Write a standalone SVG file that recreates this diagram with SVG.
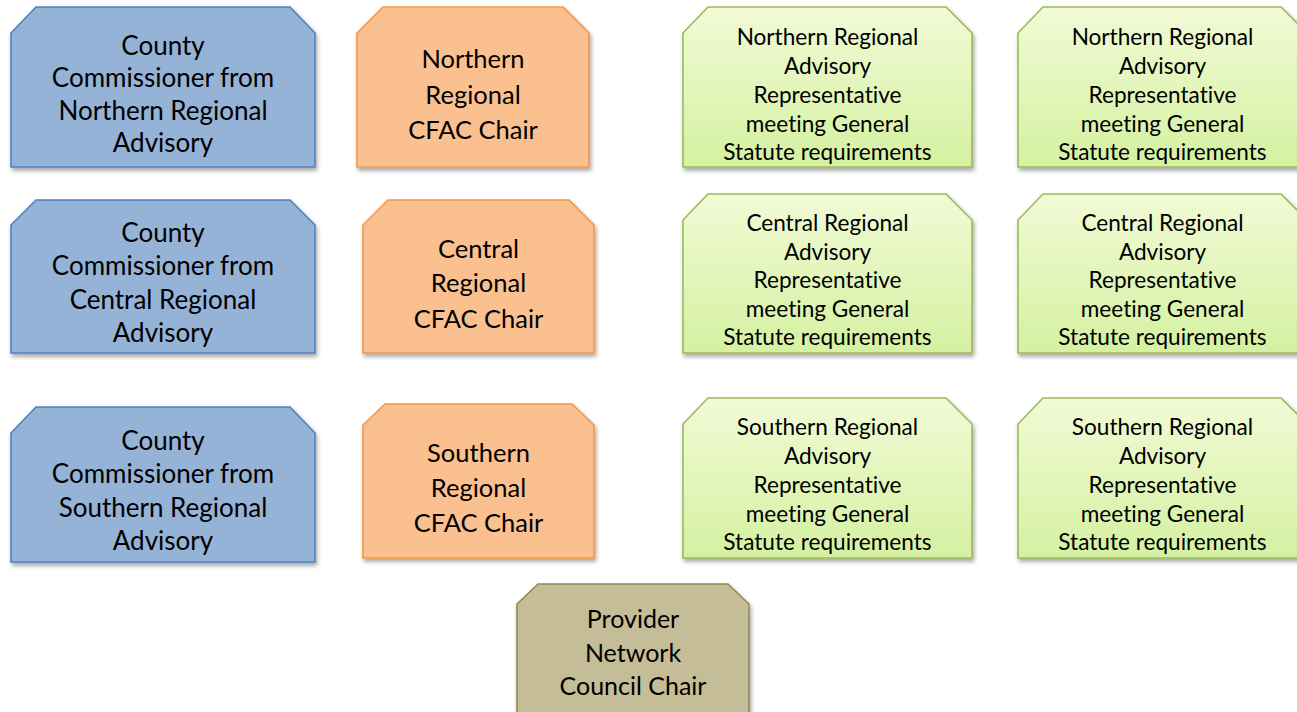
<svg xmlns="http://www.w3.org/2000/svg" width="1297" height="712" viewBox="0 0 1297 712">
<defs>
<linearGradient id="gg" x1="0" y1="0" x2="0" y2="1">
<stop offset="0" stop-color="#f2fad6"/>
<stop offset="1" stop-color="#d4f1a1"/>
</linearGradient>
<filter id="sh" x="-10%" y="-10%" width="125%" height="130%">
<feDropShadow dx="1.5" dy="3" stdDeviation="2" flood-color="#000" flood-opacity="0.35"/>
</filter>
</defs>
<style>
.n{stroke-width:1.6;filter:url(#sh)}
.blue{fill:#95b3d7;stroke:#4f81bd}
.orange{fill:#fac090;stroke:#f79646}
.green{fill:url(#gg);stroke:#9bbb59}
.tan{fill:#c4bd97;stroke:#948a54}
text{font-family:Lato,"Liberation Sans",sans-serif;fill:#000;text-anchor:middle;font-variant-ligatures:none;font-feature-settings:"liga" 0}
.tb{font-size:26px}
.to{font-size:25.5px}
.tg{font-size:22.6px}
.tp{font-size:25px}
</style>
<rect width="1297" height="712" fill="#fff"/>
<g id="connectors"/>

<g id="blue1">
<polygon class="n blue" points="36,7 290,7 315,33 315,167 11,167 11,33"/>
<text class="tb" x="163" y="55">County</text>
<text class="tb" x="163" y="87">Commissioner from</text>
<text class="tb" x="163" y="120">Northern Regional</text>
<text class="tb" x="163" y="152">Advisory</text>
</g>
<g id="blue2">
<polygon class="n blue" points="36,200 290,200 315,225 315,353 11,353 11,225"/>
<text class="tb" x="163" y="242">County</text>
<text class="tb" x="163" y="275">Commissioner from</text>
<text class="tb" x="163" y="309">Central Regional</text>
<text class="tb" x="163" y="342">Advisory</text>
</g>
<g id="blue3">
<polygon class="n blue" points="36,407 290,407 315,433 315,562 11,562 11,433"/>
<text class="tb" x="163" y="450">County</text>
<text class="tb" x="163" y="483">Commissioner from</text>
<text class="tb" x="163" y="517">Southern Regional</text>
<text class="tb" x="163" y="550">Advisory</text>
</g>

<g id="orange1">
<polygon class="n orange" points="383,7 563,7 589,33 589,167 357,167 357,33"/>
<text class="to" x="473" y="68">Northern</text>
<text class="to" x="473" y="104">Regional</text>
<text class="to" x="473" y="139">CFAC Chair</text>
</g>
<g id="orange2">
<polygon class="n orange" points="388,200 569,200 594,225 594,353 363,353 363,225"/>
<text class="to" x="478.5" y="258">Central</text>
<text class="to" x="478.5" y="292">Regional</text>
<text class="to" x="478.5" y="328">CFAC Chair</text>
</g>
<g id="orange3">
<polygon class="n orange" points="385,404 572,404 594,425 594,558 363,558 363,425"/>
<text class="to" x="478.5" y="462">Southern</text>
<text class="to" x="478.5" y="497">Regional</text>
<text class="to" x="478.5" y="532">CFAC Chair</text>
</g>

<g id="green1a">
<polygon class="n green" points="708,7 946,7 972,33 972,167 683,167 683,33"/>
<text class="tg" x="827.5" y="45">Northern Regional</text>
<text class="tg" x="827.5" y="74">Advisory</text>
<text class="tg" x="827.5" y="103">Representative</text>
<text class="tg" x="827.5" y="132">meeting General</text>
<text class="tg" x="827.5" y="160">Statute requirements</text>
</g>
<g id="green1b">
<polygon class="n green" points="1043,7 1281,7 1307,33 1307,167 1018,167 1018,33"/>
<text class="tg" x="1162.5" y="45">Northern Regional</text>
<text class="tg" x="1162.5" y="74">Advisory</text>
<text class="tg" x="1162.5" y="103">Representative</text>
<text class="tg" x="1162.5" y="132">meeting General</text>
<text class="tg" x="1162.5" y="160">Statute requirements</text>
</g>
<g id="green2a">
<polygon class="n green" points="708,194 946,194 972,220 972,353 683,353 683,220"/>
<text class="tg" x="827.5" y="231">Central Regional</text>
<text class="tg" x="827.5" y="260">Advisory</text>
<text class="tg" x="827.5" y="288">Representative</text>
<text class="tg" x="827.5" y="317">meeting General</text>
<text class="tg" x="827.5" y="345">Statute requirements</text>
</g>
<g id="green2b">
<polygon class="n green" points="1043,194 1281,194 1307,220 1307,353 1018,353 1018,220"/>
<text class="tg" x="1162.5" y="231">Central Regional</text>
<text class="tg" x="1162.5" y="260">Advisory</text>
<text class="tg" x="1162.5" y="288">Representative</text>
<text class="tg" x="1162.5" y="317">meeting General</text>
<text class="tg" x="1162.5" y="345">Statute requirements</text>
</g>
<g id="green3a">
<polygon class="n green" points="708,398 946,398 972,424 972,558 683,558 683,424"/>
<text class="tg" x="827.5" y="435">Southern Regional</text>
<text class="tg" x="827.5" y="464">Advisory</text>
<text class="tg" x="827.5" y="493">Representative</text>
<text class="tg" x="827.5" y="522">meeting General</text>
<text class="tg" x="827.5" y="550">Statute requirements</text>
</g>
<g id="green3b">
<polygon class="n green" points="1043,398 1281,398 1307,424 1307,558 1018,558 1018,424"/>
<text class="tg" x="1162.5" y="435">Southern Regional</text>
<text class="tg" x="1162.5" y="464">Advisory</text>
<text class="tg" x="1162.5" y="493">Representative</text>
<text class="tg" x="1162.5" y="522">meeting General</text>
<text class="tg" x="1162.5" y="550">Statute requirements</text>
</g>

<g id="provider">
<polygon class="n tan" points="538,584 728,584 749,604 749,720 517,720 517,604"/>
<text class="tp" x="633" y="628">Provider</text>
<text class="tp" x="633" y="662">Network</text>
<text class="tp" x="633" y="695">Council Chair</text>
</g>
</svg>
